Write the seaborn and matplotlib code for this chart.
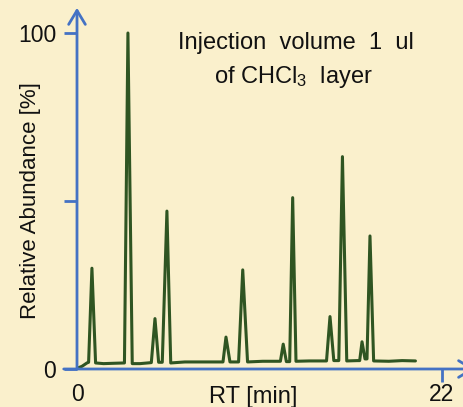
import numpy as np
import pandas as pd
import matplotlib
matplotlib.use("Agg")
import matplotlib.pyplot as plt
import seaborn as sns

# chromatogram trace, vertices (RT in min, abundance in %)
rt = [0.05, 0.3, 0.6, 0.70, 0.90, 1.12, 1.6, 2.2, 2.86, 3.07, 3.33, 3.8,
      4.48, 4.70, 4.92, 5.14, 5.42, 5.65, 6.5, 7.5, 8.80, 8.98, 9.22,
      9.74, 9.99, 10.28, 11.2, 12.26, 12.43, 12.62, 12.82, 13.0, 13.2,
      14.0, 15.04, 15.25, 15.48, 15.78, 16.0, 16.26, 16.9, 17.04, 17.18,
      17.36, 17.48, 17.66, 17.88, 18.8, 19.6, 20.4]
abundance = [0.3, 0.8, 1.8, 2.0, 30, 1.8, 1.6, 1.7, 1.8, 100, 1.6, 1.6,
             1.9, 15, 2.0, 2.0, 47, 1.8, 2.1, 2.1, 2.1, 9.5, 2.1,
             2.1, 29.5, 2.1, 2.3, 2.3, 7.4, 2.2, 2.2, 51, 2.3,
             2.4, 2.4, 15.6, 2.5, 2.5, 63.2, 2.4, 2.5, 2.5, 8.1,
             3.0, 3.0, 39.6, 2.4, 2.3, 2.5, 2.4]
yticks = [0, 50, 100]
ytick_labels = ["0", "", "100"]
xticks = [0, 22]
xtick_labels = ["0", "22"]

df = pd.DataFrame({"RT": rt, "Abundance": abundance})

bg = "#FAF0CC"
blue = "#4472C4"
green = "#2F5522"

sns.set_style("white")
plt.rcParams["font.family"] = ["Liberation Sans", "DejaVu Sans"]
plt.rcParams["mathtext.fontset"] = "custom"
plt.rcParams["mathtext.rm"] = "Liberation Sans"
plt.rcParams["mathtext.default"] = "regular"

W, H = 464, 407
fig = plt.figure(figsize=(W / 100, H / 100), dpi=100, facecolor=bg)
# axes origin at pixel (77, 369), 16.59 px per min, 3.36 px per %
ax = fig.add_axes([77 / W, 38 / H, 387 / W, 369 / H])
ax.set_facecolor("none")
sns.lineplot(data=df, x="RT", y="Abundance", sort=False, estimator=None,
             color=green, lw=2.2, ax=ax)
ax.lines[0].set_solid_joinstyle("round")
ax.set_xlim(0, 387 / 16.59)
ax.set_ylim(0, 369 / 3.36)
for s in ax.spines.values():
    s.set_visible(False)

# axes with arrows
arr = dict(arrowstyle="->,head_length=0.5,head_width=0.3", color=blue, lw=2,
           mutation_scale=20, shrinkA=0, shrinkB=0)
ax.annotate("", xy=(24.0, 0), xytext=(-0.8, 0), arrowprops=arr, annotation_clip=False)
ax.annotate("", xy=(0, 107.5), xytext=(0, 0), arrowprops=arr, annotation_clip=False)

ax.set_yticks(yticks)
ax.set_yticklabels(ytick_labels)
ax.set_xticks(xticks)
ax.set_xticklabels(xtick_labels)
ax.tick_params(axis="y", left=True, length=9.4, width=2, color=blue, pad=5.5,
               labelsize=16.5, labelcolor="#111111")
ax.tick_params(axis="x", bottom=True, length=9.4, width=2, color=blue, pad=0.5,
               labelsize=16.5, labelcolor="#111111")
ax.xaxis.get_major_ticks()[0].tick1line.set_visible(False)
ax.set_xlabel("")
ax.set_ylabel("")

fig.text(253 / W, 1 - 403 / H, "RT [min]", ha="center", va="baseline",
         fontsize=17, color="#111111")
fig.text(31 / W, 1 - 201 / H, "Relative Abundance [%]", rotation=90,
         ha="center", va="center", fontsize=16, color="#111111")
fig.text(296 / W, 1 - 49 / H, "Injection  volume  1  ul", ha="center",
         va="baseline", fontsize=17, color="#111111")
fig.text(293 / W, 1 - 83 / H, "of CHCl$_3$  layer", ha="center",
         va="baseline", fontsize=17, color="#111111")

fig.savefig("out.png", dpi=100, facecolor=bg)
